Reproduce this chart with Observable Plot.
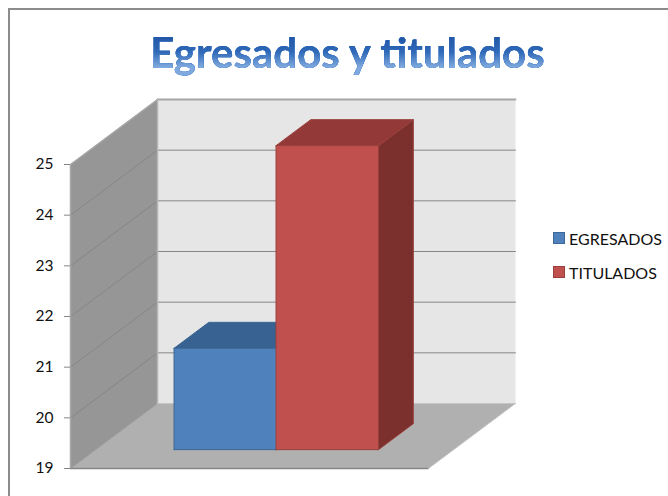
<!DOCTYPE html>
<html><head><meta charset="utf-8">
<script src="https://cdn.jsdelivr.net/npm/d3@7"></script>
<script src="https://cdn.jsdelivr.net/npm/@observablehq/plot@0.6"></script>
<style>
html,body{margin:0;padding:0;background:#fff;overflow:hidden}
#wrap{position:relative;width:668px;height:496px;overflow:hidden;font-family:Lato,sans-serif}
#frame{position:absolute;left:8px;top:8px;width:700px;height:540px;border:2px solid #8c8c8c}
#title{position:absolute;left:0;top:27px;width:695px;margin:0;text-align:center;font:700 42px/50px Lato,sans-serif;}
#title span{background:linear-gradient(180deg,#2358a8 22%,#2f69b8 50%,#7fa9de 80%);-webkit-background-clip:text;background-clip:text;color:transparent;filter:drop-shadow(0 0 .7px #2f6bc0) drop-shadow(0 0 .6px #5b8fd4)}
#legend{position:absolute;left:553px;top:229px;font-size:16px;color:#111}
#legend div{display:flex;align-items:center;height:18px;margin-bottom:16px;white-space:nowrap}
#legend i{display:block;width:10px;height:10px;margin-right:4px;border:1.5px solid}
svg{position:absolute;left:0;top:0}
</style></head>
<body><div id="wrap"><div id="frame"></div><h1 id="title"><span>Egresados y titulados</span></h1><div id="legend"></div></div>
<script>
const titleText = "Egresados y titulados";
const categories = ["EGRESADOS", "TITULADOS"];
const values = [21, 25];
const ticks = [19, 20, 21, 22, 23, 24, 25];
const frontColors = ["#4f81bd", "#c0504d"];
const topColors = ["#376291", "#933a38"];
const sideColors = ["#2f5580", "#7b302e"];
const edgeColors = ["#3d6796", "#99403d"];
const barStart = [0.2187, 0.5036];
const barWidth = 0.2863;

// oblique projection: depth 0 = front, depth 1 = back wall
const dx = 87 / 358, dy = 65 / 50.67;
const P = (u, d, v) => ({x: u + d * dx, y: v + d * dy});
const [vMin, vMax] = d3.extent(ticks);
const face = (pts, fill, stroke, strokeWidth = 1) =>
  Plot.line([...pts, pts[0]], {x: "x", y: "y", fill, stroke, strokeWidth, curve: "linear"});
const seg = (a, b, stroke, strokeWidth = 1) =>
  Plot.line([a, b], {x: "x", y: "y", stroke, strokeWidth});

const d0 = 0.29, d1 = 0.69;
const barMarks = categories.flatMap((c, i) => {
  const a = barStart[i], b = a + barWidth, v = values[i];
  return [
    face([P(b,d0,vMin),P(b,d1,vMin),P(b,d1,v),P(b,d0,v)], sideColors[i], edgeColors[i]),
    face([P(a,d0,v),P(b,d0,v),P(b,d1,v),P(a,d1,v)], topColors[i], edgeColors[i]),
    face([P(a,d0,vMin),P(b,d0,vMin),P(b,d0,v),P(a,d0,v)], frontColors[i], edgeColors[i])
  ];
});

const chart = Plot.plot({
  width: 668, height: 496,
  marginLeft: 70, marginRight: 240, marginTop: 164, marginBottom: 28,
  x: {domain: [0, 1], axis: null},
  y: {domain: [vMin, vMax], axis: null},
  style: {background: "transparent", overflow: "visible"},
  marks: [
    face([P(0,1,vMin),P(1,1,vMin),P(1,1,vMax),P(0,1,vMax)], "#e6e6e6", "none"),
    face([P(0,0,vMin),P(0,1,vMin),P(0,1,vMax),P(0,0,vMax)], "#969696", "none"),
    face([P(0,0,vMin),P(1,0,vMin),P(1,1,vMin),P(0,1,vMin)], "#b0b0b0", "none"),
    ...ticks.slice(1, -1).map(t => seg(P(0,1,t), P(1,1,t), "#868686", 1)),
    seg(P(0,1,vMax), P(1,1,vMax), "#a6a6a6", 2),
    ...ticks.slice(1, -1).map(t => seg(P(0,0,t), P(0,1,t), "#868686", 1)),
    seg(P(0,0,vMax), P(0,1,vMax), "#a6a6a6", 1.5),
    seg(P(0,1,vMin), P(0,1,vMax), "#b4b4b4", 1.5),
    seg(P(0,0,vMin), P(0,0,vMax), "#a8a8a8", 1.5),
    seg(P(0,0,vMin), P(1,0,vMin), "#868686", 1.5),
    seg(P(0,0,vMin), P(0,1,vMin), "#9a9a9a", 1),
    seg(P(1,0,vMin), P(1,1,vMin), "#c8c8c8", 1),
    seg(P(0,1,vMin), P(1,1,vMin), "#c4c4c4", 1),
    ...barMarks,
    Plot.axisY(ticks, {anchor: "left", tickSize: 6, tickPadding: 11, tickFormat: d => String(d),
      fontSize: 15.5, fontFamily: "Lato, sans-serif", color: "#111", stroke: "#868686", label: null})
  ]
});
document.getElementById("wrap").appendChild(chart);

const legend = document.getElementById("legend");
categories.forEach((c, i) => {
  const row = document.createElement("div");
  const sw = document.createElement("i");
  sw.style.background = frontColors[i];
  sw.style.borderColor = edgeColors[i];
  row.appendChild(sw);
  row.appendChild(document.createTextNode(c));
  legend.appendChild(row);
});
document.querySelector("#title span").textContent = titleText;
</script></body></html>
